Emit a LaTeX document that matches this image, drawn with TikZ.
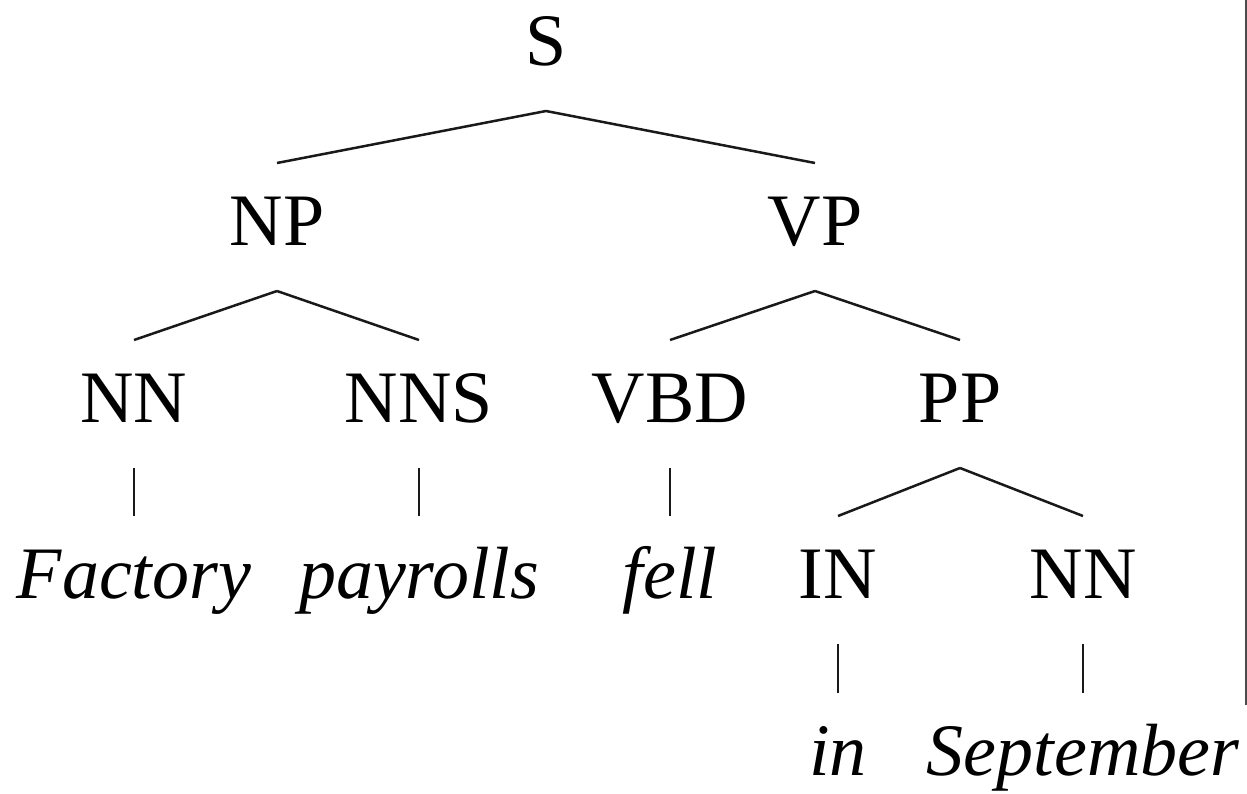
\documentclass[tikz,border=0pt]{standalone}
\usepackage{fontspec}
\setmainfont{Liberation Serif}
\begin{document}
\begin{tikzpicture}[x=1pt,y=-1pt,
  lab/.style={anchor=base,inner sep=0pt,font=\fontsize{74}{80}\selectfont},
  word/.style={lab,font=\fontsize{74}{80}\selectfont\itshape},
  edge/.style={line width=2.5pt,black!90}]
\useasboundingbox (0,0) rectangle (1247,793);
% labels
\node[lab] (S) at (546,65) {S};
\node[lab] (NP) at (277,245) {NP};
\node[lab] (VP) at (815,245) {VP};
\node[lab] (NN1) at (134,422) {NN};
\node[lab] (NNS) at (419,422) {NNS};
\node[lab] (VBD) at (670,422) {VBD};
\node[lab] (PP) at (960,422) {PP};
\node[word] (w1) at (134,598) {Factory};
\node[word] (w2) at (419,598) {payrolls};
\node[word] (w3) at (670,598) {fell};
\node[lab] (IN) at (838,598) {IN};
\node[lab] (NN2) at (1083,598) {NN};
\node[word] (w4) at (838,775) {in};
\node[word] (w5) at (1083,775) {September};
% edges
\foreach \p/\c in {S/NP,S/VP,NP/NN1,NP/NNS,VP/VBD,VP/PP,NN1/w1,NNS/w2,VBD/w3,PP/IN,PP/NN2,IN/w4,NN2/w5}
  \draw[edge] ([yshift=-46pt]\p.base) -- ([yshift=82pt]\c.base);
% right-edge rule
\coordinate (r1) at (1246,0);
\coordinate (r2) at (1246,705);
\draw[line width=1.5pt,black!70] (r1) -- (r2);
\end{tikzpicture}
\end{document}
